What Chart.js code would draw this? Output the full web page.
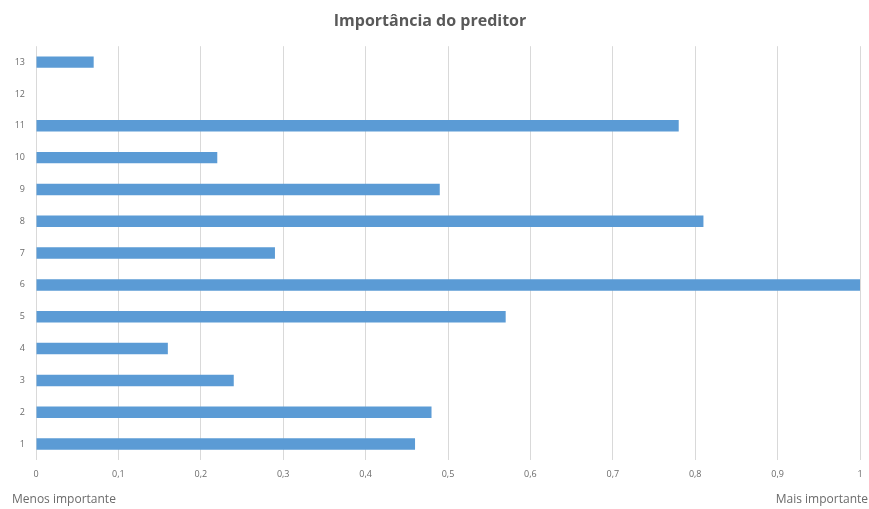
<!DOCTYPE html>
<html>
<head>
<meta charset="utf-8">
<script src="https://cdn.jsdelivr.net/npm/chart.js@4"></script>
<style>
  html, body { margin: 0; padding: 0; background: #ffffff; }
  #wrap { width: 869px; height: 509px; }
</style>
</head>
<body>
<div id="wrap"><canvas id="c" width="869" height="509"></canvas></div>
<script>
const categories = ['1','2','3','4','5','6','7','8','9','10','11','12','13'];
const importance = [0.46, 0.48, 0.24, 0.16, 0.57, 1.0, 0.29, 0.81, 0.49, 0.22, 0.78, 0, 0.07];
const xTickLabels = ['0','0,1','0,2','0,3','0,4','0,5','0,6','0,7','0,8','0,9','1'];
const chartTitle = 'Importância do preditor';
const leftNote = 'Menos importante';
const rightNote = 'Mais importante';

const notesPlugin = {
  id: 'notes',
  afterDraw(chart) {
    const ctx = chart.ctx;
    ctx.save();
    ctx.font = '12px "Open Sans", sans-serif';
    ctx.fillStyle = '#6b6b6b';
    ctx.textBaseline = 'middle';
    ctx.textAlign = 'left';
    ctx.fillText(leftNote, 12, 500);
    ctx.textAlign = 'right';
    ctx.fillText(rightNote, 868, 500);
    ctx.restore();
  }
};

new Chart(document.getElementById('c'), {
  type: 'bar',
  data: {
    labels: categories,
    datasets: [{
      data: importance,
      backgroundColor: '#5b9bd5',
      borderWidth: 0,
      categoryPercentage: 1,
      barPercentage: 0.36
    }]
  },
  options: {
    indexAxis: 'y',
    responsive: false,
    animation: false,
    layout: { padding: { left: 0, right: 9, top: 0, bottom: 0 } },
    plugins: {
      legend: { display: false },
      tooltip: { enabled: false },
      title: {
        display: true,
        text: chartTitle,
        color: '#595959',
        font: { family: '"Open Sans", sans-serif', size: 16, weight: 'bold' },
        padding: { top: 12, bottom: 15 }
      }
    },
    scales: {
      x: {
        min: 0,
        max: 1,
        ticks: {
          stepSize: 0.1,
          color: '#6b6b6b',
          font: { family: '"Open Sans", sans-serif', size: 9 },
          padding: 9,
          maxRotation: 0,
          autoSkip: false,
          callback: (v, i) => xTickLabels[i]
        },
        grid: { color: '#d9d9d9', lineWidth: 1, drawTicks: false },
        border: { display: false },
        afterFit: s => { s.height = 49; s.paddingRight = 0; s.paddingLeft = 0; }
      },
      y: {
        reverse: true,
        ticks: {
          color: '#6b6b6b',
          font: { family: '"Open Sans", sans-serif', size: 9 },
          padding: 11
        },
        grid: { display: false, drawTicks: false },
        border: { display: false },
        afterFit: s => { s.width = 36; }
      }
    }
  },
  plugins: [notesPlugin]
});
</script>
</body>
</html>
